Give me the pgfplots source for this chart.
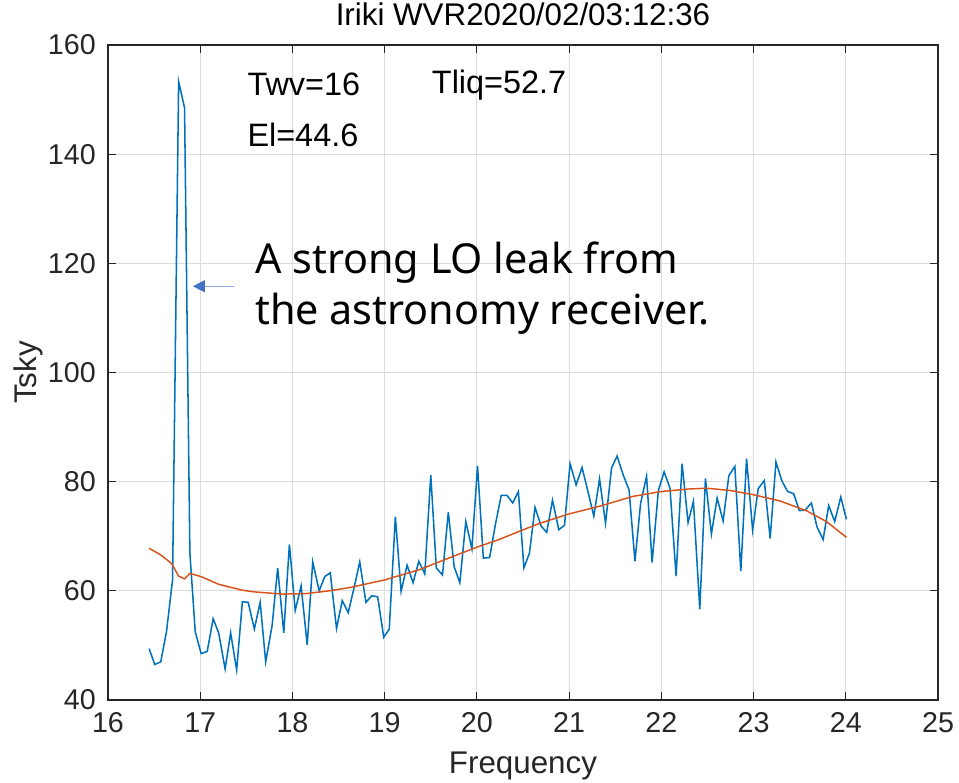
\documentclass[border=0pt]{standalone}
\usepackage{fontspec}
\setmainfont{Liberation Sans}
\newfontfamily\annfont{Noto Sans}
\usepackage{pgfplots}
\pgfplotsset{compat=1.18}
\usetikzlibrary{arrows.meta}

\definecolor{mblue}{RGB}{0,114,189}
\definecolor{morange}{RGB}{217,83,25}
\definecolor{axgray}{RGB}{38,38,38}
\definecolor{gridgray}{RGB}{220,220,220}
\definecolor{arrline}{RGB}{143,170,220}
\definecolor{arrhead}{RGB}{68,114,196}

\pgfplotstableread{
x y
16.446 49.4
16.507 46.5
16.572 47.0
16.634 52.5
16.700 62.0
16.766 153.3
16.830 148.5
16.888 66.9
16.946 52.5
17.010 48.5
17.076 48.9
17.140 54.9
17.200 52.3
17.270 45.7
17.330 52.3
17.395 45.5
17.457 58.0
17.520 57.9
17.587 53.0
17.650 57.9
17.710 47.0
17.780 53.7
17.840 64.2
17.906 52.3
17.967 68.5
18.030 56.4
18.094 60.9
18.160 50.1
18.220 65.3
18.290 60.0
18.350 62.6
18.410 63.3
18.478 53.1
18.540 58.2
18.605 56.0
18.670 60.7
18.730 65.3
18.797 57.9
18.860 59.1
18.924 58.9
18.990 51.5
19.050 53.0
19.116 73.6
19.178 59.9
19.243 64.7
19.308 61.5
19.370 65.4
19.435 63.1
19.500 81.2
19.560 64.2
19.627 62.9
19.690 74.4
19.754 64.4
19.815 61.5
19.880 72.7
19.946 67.7
20.007 82.9
20.070 66.0
20.138 66.1
20.200 72.1
20.264 77.5
20.326 77.5
20.389 76.1
20.450 78.2
20.510 64.2
20.570 66.9
20.630 75.3
20.696 71.9
20.757 70.7
20.820 76.6
20.888 71.2
20.950 72.0
21.010 83.3
21.076 79.4
21.140 82.6
21.200 78.5
21.268 73.7
21.330 80.5
21.395 72.4
21.460 82.5
21.520 84.7
21.587 81.2
21.650 78.5
21.714 65.4
21.775 76.0
21.840 81.0
21.900 65.2
21.967 78.3
22.030 81.8
22.094 78.8
22.160 62.7
22.225 83.3
22.290 72.5
22.348 76.4
22.417 56.6
22.478 80.6
22.543 70.4
22.605 77.0
22.670 72.8
22.732 81.1
22.797 82.8
22.862 63.6
22.924 84.2
22.990 71.1
23.050 78.7
23.116 80.2
23.180 69.6
23.243 83.6
23.308 80.1
23.370 78.2
23.435 77.8
23.496 74.7
23.560 74.8
23.627 76.1
23.688 71.7
23.754 69.4
23.815 75.6
23.880 72.7
23.946 77.2
24.007 73.1
}\tsky

\pgfplotstableread{
x y
16.446 67.8
16.570 66.6
16.690 65.0
16.766 62.7
16.830 62.2
16.888 63.2
17.010 62.6
17.200 61.2
17.460 60.1
17.590 59.8
17.900 59.4
18.150 59.5
18.400 60.0
18.620 60.6
19.000 62.0
19.380 63.9
19.740 66.3
20.000 68.0
20.240 69.4
20.460 70.9
20.670 72.3
21.000 74.1
21.330 75.5
21.690 77.3
22.000 78.2
22.290 78.65
22.490 78.8
22.740 78.4
23.000 77.6
23.280 76.5
23.570 74.7
23.790 72.7
24.007 69.8
}\fit

\begin{document}
\begin{tikzpicture}
% page = 959x782 px, 1 px = 0.75pt; axis box starts at px (108,700)
\path[use as bounding box] (-81pt,-61.5pt) rectangle (638.25pt,525pt);
\begin{axis}[
    at={(0,0)}, anchor=south west,
    scale only axis, width=622.5pt, height=491.25pt,
    xmin=16, xmax=25, ymin=40, ymax=160,
    xtick={16,...,25}, ytick={40,60,...,160},
    /pgf/number format/assume math mode=true,
    tick label style={font=\fontsize{21.5}{25}\selectfont, text=axgray, inner sep=0pt},
    xticklabel style={anchor=center, yshift=-17pt},
    yticklabel style={anchor=east, xshift=-9pt},
    tick align=inside, major tick length=6pt,
    tick style={axgray, line width=0.8pt},
    axis line style={axgray, line width=0.8pt},
    grid=major, grid style={gridgray, line width=0.8pt},
    xlabel={Frequency}, ylabel={Tsky},
    label style={font=\fontsize{23.5}{27}\selectfont, text=axgray},
    xlabel style={at={(axis description cs:0.5,-0.1)}, anchor=center},
    ylabel style={at={(axis description cs:-0.0964,0.5)}, anchor=center},
    title={Iriki WVR2020/02/03:12:36},
    title style={font=\fontsize{23.5}{27}\selectfont, at={(axis description cs:0.5,1.035)}, anchor=center},
]
\addplot[mblue, line width=1.15pt] table[x=x, y=y] {\tsky};
\addplot[morange, line width=1.1pt] table[x=x, y=y] {\fit};
\node[anchor=west, inner sep=0pt, font=\fontsize{24.3}{28}\selectfont] at (axis cs:17.51,152.7) {Twv=16};
\node[anchor=west, inner sep=0pt, font=\fontsize{24.3}{28}\selectfont] at (axis cs:19.51,152.7) {Tliq=52.7};
\node[anchor=west, inner sep=0pt, font=\fontsize{24.3}{28}\selectfont] at (axis cs:17.51,143.5) {El=44.6};
\node[anchor=west, inner sep=0pt, align=left, font=\annfont\fontsize{31}{38.5}\selectfont] at (axis cs:17.594,115.4) {A strong LO leak from\\the astronomy receiver.};
\draw[arrline, line width=1pt, -{Triangle[length=9pt, width=9pt, color=arrhead]}] (axis cs:17.37,115.8) -- (axis cs:16.92,115.8);
\end{axis}
\end{tikzpicture}
\end{document}
